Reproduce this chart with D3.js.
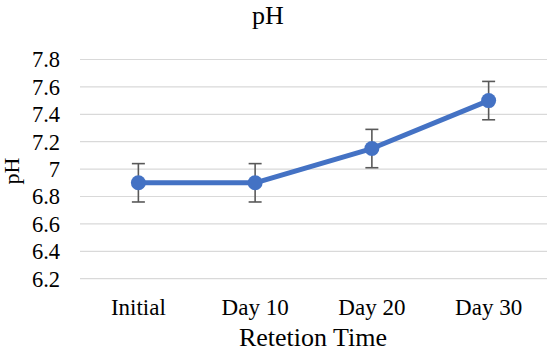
<!DOCTYPE html>
<html>
<head>
<meta charset="utf-8">
<script src="https://cdn.jsdelivr.net/npm/d3@7"></script>
<style>
  body { margin: 0; background: #fff; }
  svg { display: block; }
</style>
</head>
<body>
<svg></svg>
<script>
const width = 547;
const height = 352;
const font = "'Liberation Serif', 'Times New Roman', serif";

// data
const categories = ['Initial', 'Day 10', 'Day 20', 'Day 30'];
const phValues = [6.9, 6.9, 7.15, 7.5];
const phErrors = [0.14, 0.14, 0.14, 0.14];
const yTicks = [6.2, 6.4, 6.6, 6.8, 7, 7.2, 7.4, 7.6, 7.8];

const plotLeft = 80, plotRight = 547, plotTop = 59.5, plotBottom = 278.7;

const svg = d3.select('svg')
    .attr('width', width)
    .attr('height', height)
    .attr('font-family', font);

const x = d3.scalePoint()
    .domain(categories)
    .range([plotLeft, plotRight])
    .padding(0.5);

const y = d3.scaleLinear()
    .domain([6.2, 7.8])
    .range([plotBottom, plotTop]);

// gridlines
svg.append('g').selectAll('line').data(yTicks)
    .enter().append('line')
    .attr('x1', plotLeft).attr('x2', plotRight)
    .attr('y1', d => y(d)).attr('y2', d => y(d))
    .attr('stroke', '#d9d9d9')
    .attr('stroke-width', 1.2);

// y tick labels
svg.append('g').selectAll('text').data(yTicks)
    .enter().append('text')
    .attr('x', 60)
    .attr('y', d => y(d))
    .attr('dy', '0.35em')
    .attr('text-anchor', 'end')
    .attr('font-size', 22.5)
    .text(d => d3.format('~g')(d));

// x labels
svg.append('g').selectAll('text').data(categories)
    .enter().append('text')
    .attr('x', d => x(d))
    .attr('y', 315)
    .attr('text-anchor', 'middle')
    .attr('font-size', 23)
    .text(d => d);

const points = categories.map((c, i) => ({ c: c, v: phValues[i], e: phErrors[i] }));

// line
svg.append('path')
    .datum(points)
    .attr('fill', 'none')
    .attr('stroke', '#4472c4')
    .attr('stroke-width', 5)
    .attr('stroke-linejoin', 'round')
    .attr('d', d3.line().x(d => x(d.c)).y(d => y(d.v)));

// error bars
const err = svg.append('g').attr('stroke', '#595959').attr('stroke-width', 1.6);
err.selectAll('.stem').data(points).enter().append('line')
    .attr('x1', d => x(d.c)).attr('x2', d => x(d.c))
    .attr('y1', d => y(d.v + d.e)).attr('y2', d => y(d.v - d.e));
err.selectAll('.cap-top').data(points).enter().append('line')
    .attr('x1', d => x(d.c) - 6.5).attr('x2', d => x(d.c) + 6.5)
    .attr('y1', d => y(d.v + d.e)).attr('y2', d => y(d.v + d.e));
err.selectAll('.cap-bot').data(points).enter().append('line')
    .attr('x1', d => x(d.c) - 6.5).attr('x2', d => x(d.c) + 6.5)
    .attr('y1', d => y(d.v - d.e)).attr('y2', d => y(d.v - d.e));

// markers
svg.append('g').selectAll('circle').data(points)
    .enter().append('circle')
    .attr('cx', d => x(d.c))
    .attr('cy', d => y(d.v))
    .attr('r', 7.5)
    .attr('fill', '#4472c4');

// titles
svg.append('text')
    .attr('x', 268).attr('y', 24)
    .attr('text-anchor', 'middle')
    .attr('font-size', 26)
    .text('pH');

svg.append('text')
    .attr('transform', 'translate(19, 171) rotate(-90)')
    .attr('text-anchor', 'middle')
    .attr('font-size', 22)
    .text('pH');

svg.append('text')
    .attr('x', 313).attr('y', 346)
    .attr('text-anchor', 'middle')
    .attr('font-size', 26)
    .text('Retetion Time');
</script>
</body>
</html>
